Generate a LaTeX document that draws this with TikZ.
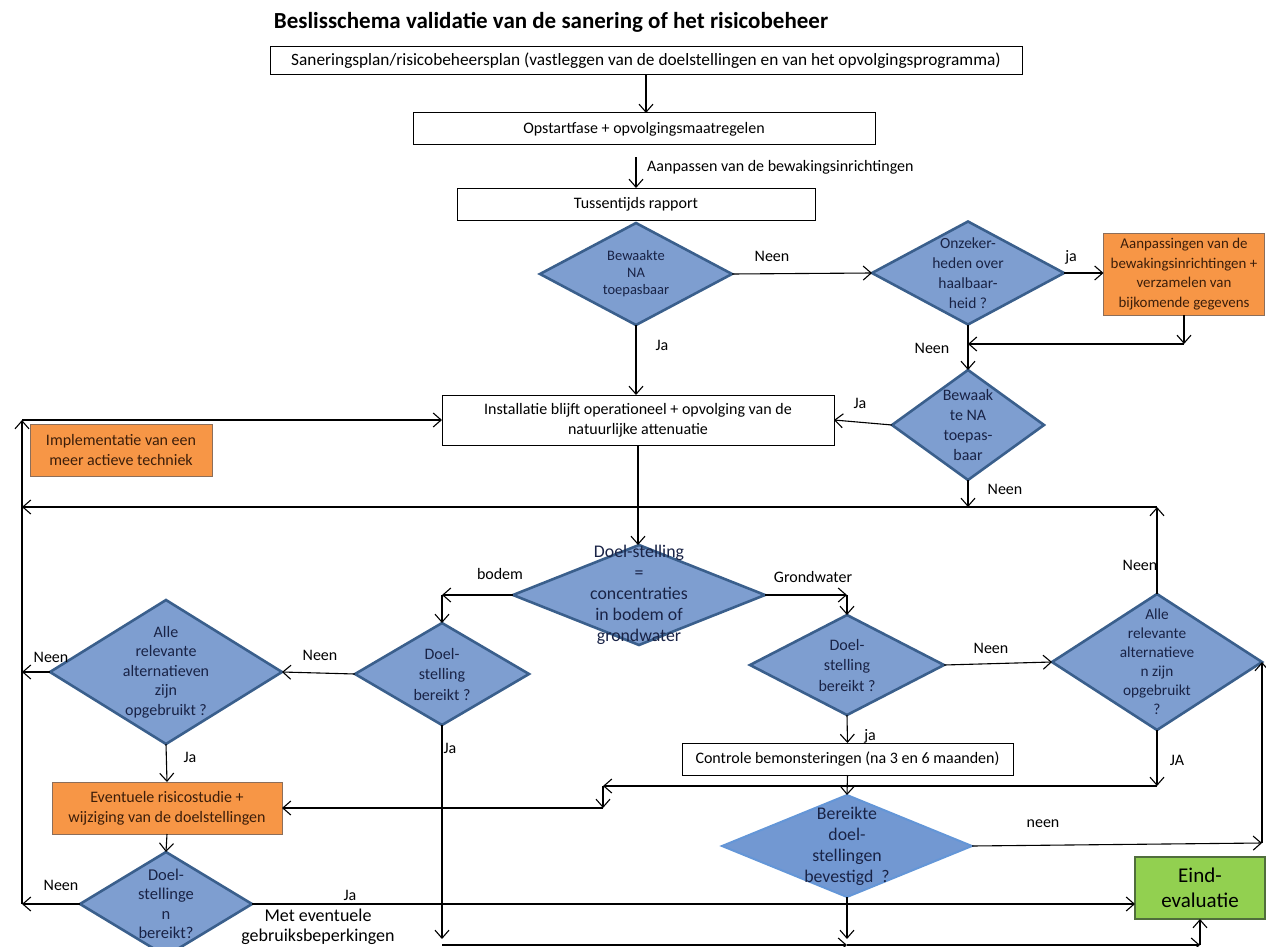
\documentclass[tikz,border=0pt]{standalone}
\usepackage{fontspec}
\setmainfont{Carlito}
\usetikzlibrary{shapes.geometric,arrows.meta}
\definecolor{diafill}{RGB}{126,158,208}
\definecolor{diadraw}{RGB}{58,95,140}
\definecolor{diaeightfill}{RGB}{114,152,210}
\definecolor{diaeightdraw}{RGB}{100,150,215}
\definecolor{orfill}{RGB}{247,150,70}
\definecolor{ordraw}{RGB}{140,110,90}
\definecolor{ortxt}{RGB}{60,30,10}
\definecolor{grfill}{RGB}{146,208,80}
\definecolor{grdraw}{RGB}{80,110,60}
\definecolor{dtxt}{RGB}{25,35,70}
\begin{document}
\begin{tikzpicture}[x=1pt,y=-1pt,
  box/.style={draw=black,line width=1pt,fill=white,inner sep=0pt,outer sep=0pt,align=center,font=\fontsize{16}{20}\selectfont},
  obox/.style={box,draw=ordraw,fill=orfill,text=ortxt},
  gbox/.style={box,draw=grdraw,fill=grfill,line width=1.2pt,font=\fontsize{21}{25}\selectfont},
  dia/.style={diamond,draw=diadraw,fill=diafill,line width=2.6pt,inner sep=0pt,outer sep=0pt},
  dtext/.style={align=center,text=dtxt,font=\fontsize{15.5}{20}\selectfont,inner sep=0pt},
  lbl/.style={font=\fontsize{16}{18}\selectfont,inner sep=0pt},
  arr/.style={line width=1.1pt,-{Straight Barb[length=8pt,width=14pt]}},
  ln/.style={line width=1.1pt}]
\path[use as bounding box] (0,0) rectangle (1266,947);
\clip (0,0) rectangle (1266,947);

% title and top boxes
\node[font=\bfseries\fontsize{23}{26}\selectfont] (title) at (551,22) {Beslisschema validatie van de sanering of het risicobeheer};
\node[box,minimum width=752pt,minimum height=28pt,font=\fontsize{17.3}{20}\selectfont] (b1) at (646,61) {Saneringsplan/risicobeheersplan (vastleggen van de doelstellingen en van het opvolgingsprogramma)};
\node[box,minimum width=462pt,minimum height=32pt] (b2) at (644,129) {Opstartfase + opvolgingsmaatregelen};
\node[box,minimum width=358pt,minimum height=32pt] (b3) at (636,204) {Tussentijds rapport};

% diamonds and boxes
\node[dia,minimum width=192pt,minimum height=102pt] (d1) at (636,274) {};
\node[dtext,font=\fontsize{14.5}{17}\selectfont] at (d1) {Bewaakte\\NA\\toepasbaar};
\node[dia,minimum width=192pt,minimum height=103pt] (d2) at (968,273) {};
\node[dtext] at (d2) {Onzeker-\\heden over\\haalbaar-\\heid ?};
\node[obox,minimum width=161pt,minimum height=82pt,font=\fontsize{14.9}{19.5}\selectfont] (o1) at (1184,274) {Aanpassingen van de\\bewakingsinrichtingen +\\verzamelen van\\bijkomende gegevens};
\node[dia,minimum width=152pt,minimum height=110pt] (d3) at (968,425) {};
\node[dtext,font=\fontsize{16}{20}\selectfont] at (d3) {Bewaak\\te NA\\toepas-\\baar};
\node[box,minimum width=392pt,minimum height=50pt] (b4) at (638,420) {Installatie blijft operationeel + opvolging van de\\natuurlijke attenuatie};
\node[obox,minimum width=182pt,minimum height=52pt] (o2) at (121,450) {Implementatie van een\\meer actieve techniek};
\node[dia,minimum width=252pt,minimum height=100pt] (d4) at (639,595) {};
\node[dtext,font=\fontsize{17.8}{21}\selectfont] at (d4) {Doel-stelling\\=\\concentraties\\in bodem of\\grondwater};
\node[dia,minimum width=174pt,minimum height=102pt] (d6) at (442,674) {};
\node[dtext,font=\fontsize{16}{20.5}\selectfont] at (d6) {Doel-\\stelling\\bereikt ?};
\node[dia,minimum width=194pt,minimum height=100pt] (d7) at (847,665) {};
\node[dtext,font=\fontsize{16}{20.5}\selectfont] at (d7) {Doel-\\stelling\\bereikt ?};
\node[dia,minimum width=210pt,minimum height=136pt] (d5) at (1157,662) {};
\node[dtext,font=\fontsize{15.3}{19}\selectfont] at (d5) {Alle\\relevante\\alternatieve\\n zijn\\opgebruikt\\?};
\node[dia,minimum width=232pt,minimum height=144pt] (d10) at (166,672) {};
\node[dtext,font=\fontsize{16}{19.5}\selectfont] at (d10) {Alle\\relevante\\alternatieven\\zijn\\opgebruikt ?};
\node[obox,minimum width=230pt,minimum height=52pt,font=\fontsize{16}{20}\selectfont] (o3) at (167,808) {Eventuele risicostudie +\\wijziging van de doelstellingen};
\node[dia,minimum width=172pt,minimum height=104pt] (d9) at (166,904) {};
\node[dtext,font=\fontsize{16.5}{19.5}\selectfont] at (d9) {Doel-\\stellinge\\n\\bereikt?};
\node[box,minimum width=331pt,minimum height=32pt] (b5) at (847.5,759) {Controle bemonsteringen (na 3 en 6 maanden)};
\node[dia,draw=diaeightdraw,fill=diaeightfill,line width=2pt,minimum width=250pt,minimum height=102pt] (d8) at (847,846) {};
\node[dtext,font=\fontsize{17.8}{21}\selectfont] at (d8) {Bereikte\\doel-\\stellingen\\bevestigd~ ?};
\node[gbox,minimum width=130pt,minimum height=62pt] (e) at (1200,888) {Eind-\\evaluatie};
\node[align=center,font=\fontsize{18}{20.5}\selectfont,inner sep=0pt] (met) at (318,927) {Met eventuele\\gebruiksbeperkingen};

% coordinates
\coordinate (c1) at (1184,344);
\coordinate (c2) at (968,507);
\coordinate (c3) at (1157,507);
\coordinate (L) at (22,420);
\coordinate (c4) at (22,507);
\coordinate (c6) at (d4.west -| d6.north);
\coordinate (c7) at (d4.east -| d7.north);
\coordinate (c8) at (1157,786);
\coordinate (c9) at (603,786);
\coordinate (c10) at (c9 |- o3.east);
\coordinate (c11) at (1262,843);
\coordinate (c12) at (847,939);
\coordinate (c13) at (442,939);
\coordinate (c14) at (442,945);
\coordinate (c15) at (1200,945);

% connectors
\draw[arr] (b1.south) -- (b1.south |- b2.north);
\draw[arr,shorten <=12pt] (b2.south -| b3.north) -- (b3.north);
\node[lbl,anchor=west] at (647,167) {Aanpassen van de bewakingsinrichtingen};
\draw[arr] (d1.east) -- (d2.west);
\node[lbl] at (772,256) {Neen};
\draw[arr] (d2.east) -- (o1.west |- d2.east);
\node[lbl] at (1071,257) {ja};
\draw[arr] (o1.south) -- (c1);
\draw[arr] (c1) -- (c1 -| d2.south);
\draw[arr] (d2.south) -- (d3.north);
\node[lbl] at (932,348) {Neen};
\draw[arr] (d3.west) -- (b4.east);
\node[lbl] at (860,403) {Ja};
\draw[arr] (d1.south) -- (d1.south |- b4.north);
\node[lbl] at (662,345) {Ja};
\draw[arr] (d3.south) -- (c2);
\node[lbl] at (1005,489) {Neen};
\draw[arr] (d5.north) -- (c3);
\draw[arr] (c3) -- (c4);
\node[lbl] at (1140,565) {Neen};
\draw[arr] (d9.west -| L) -- (L);
\draw[arr] (L) -- (b4.west);
\draw[arr] (d9.west) -- (d9.west -| L);
\node[lbl] at (61,885) {Neen};
\draw[arr] (d10.west) -- (d10.west -| L);
\node[lbl] at (51,657) {Neen};
\draw[arr] (b4.south) -- (b4.south |- d4.north);
\draw[arr] (d4.west) -- (c6);
\draw[arr] (c6) -- (d6.north);
\node[lbl] at (500,574) {bodem};
\draw[arr] (d4.east) -- (c7);
\draw[arr] (c7) -- (d7.north);
\node[lbl] at (813,577) {Grondwater};
\draw[arr] (d6.west) -- (d10.east);
\node[lbl] at (320,655) {Neen};
\draw[arr] (d7.east) -- (d5.west);
\node[lbl] at (991,648) {Neen};
\draw[arr] (d7.south) -- (b5.north);
\node[lbl] at (870,736) {ja};
\draw[arr] (b5.south) -- (d8.north);
\draw[arr] (d5.south) -- (c8);
\node[lbl] at (1177,760) {JA};
\draw[arr] (c8) -- (c9);
\draw[arr] (c9) -- (c10);
\draw[arr] (c10) -- (o3.east);
\draw[arr] (d10.south) -- (o3.north);
\node[lbl] at (190,757) {Ja};
\draw[arr] (o3.south) -- (d9.north);
\draw[arr] (d8.east) -- (c11);
\draw[arr] (c11) -- (d5.east);
\node[lbl] at (1043,824) {neen};
\draw[arr] (d9.east) -- (d9.east -| e.west);
\node[lbl] at (350,895) {Ja};
\draw[arr] (d8.south) -- (c12);
\draw[arr] (d6.south) -- (c13);
\node[lbl] at (450,748) {Ja};
\draw[arr] (c14) -- (c12 |- c14);
\draw[arr] (c12 |- c14) -- (c15);
\draw[arr] (c15) -- (e.south);
\end{tikzpicture}
\end{document}
